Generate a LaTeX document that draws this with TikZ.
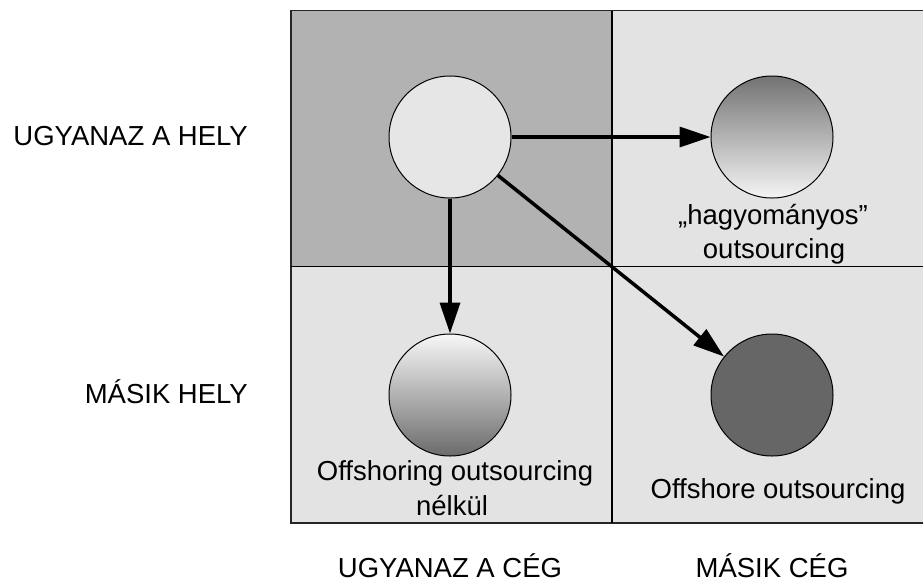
\documentclass[tikz,border=0pt]{standalone}
\usepackage{fontspec}
\setmainfont{Liberation Sans}
\usetikzlibrary{arrows.meta}
\definecolor{cellDark}{HTML}{B2B2B2}
\definecolor{cellLight}{HTML}{E3E3E3}
\definecolor{ballLight}{HTML}{E6E6E6}
\definecolor{ballDark}{HTML}{666666}
\begin{document}
\begin{tikzpicture}[x=1pt,y=-1pt,
  ball/.style={circle,draw=black,line width=1pt,minimum size=122pt,inner sep=0pt},
  flow/.style={line width=3.5pt,-{Triangle[length=31pt,width=20pt]}},
  lab/.style={font=\fontsize{27.5}{34}\selectfont,inner sep=0pt},
]
\useasboundingbox (0,0) rectangle (923,582);
\clip (0,0) rectangle (923,582);
\fill[white] (0,0) rectangle (923,582);

% the four cells of the matrix
\fill[cellDark]  (291,10.5)  rectangle (612,266.5);
\fill[cellLight] (612,10.5)  rectangle (940,266.5);
\fill[cellLight] (291,266.5) rectangle (940,523);
\draw[line width=1.4pt,draw=black!85] (291,10.5) rectangle (940,523);
\draw[line width=1.2pt] (612,10.5) -- (612,523);
\draw[line width=1.2pt] (291,266.5) -- (940,266.5);

% balls
\node[ball,fill=ballLight] (same) at (450,137) {};
\node[ball,top color=black!55,bottom color=black!4] (trad) at (772,137) {};
\node[ball,top color=black!3,bottom color=black!58] (offsh) at (450,395) {};
\node[ball,fill=ballDark] (offout) at (772,395) {};

% moves
\draw[flow] (same) -- (trad);
\draw[flow] (same) -- (offsh);
\draw[flow] (same) -- (offout);

% ball captions
\node[lab,anchor=base] (tradA) at (773,224) {„hagyományos"};
\node[lab,anchor=base] (tradB) at (774,258) {outsourcing};
\node[lab,anchor=base] (offshA) at (455,480) {Offshoring outsourcing};
\node[lab,anchor=base] (offshB) at (452,515) {nélkül};
\node[lab,anchor=base] (offoutA) at (778,498) {Offshore outsourcing};

% axis labels
\node[lab,anchor=base east] (rowA) at (248,145.5) {UGYANAZ A HELY};
\node[lab,anchor=base east] (rowB) at (248,403) {MÁSIK HELY};
\node[lab,anchor=base] (colA) at (450,577) {UGYANAZ A CÉG};
\node[lab,anchor=base] (colB) at (772,577) {MÁSIK CÉG};
\end{tikzpicture}
\end{document}
